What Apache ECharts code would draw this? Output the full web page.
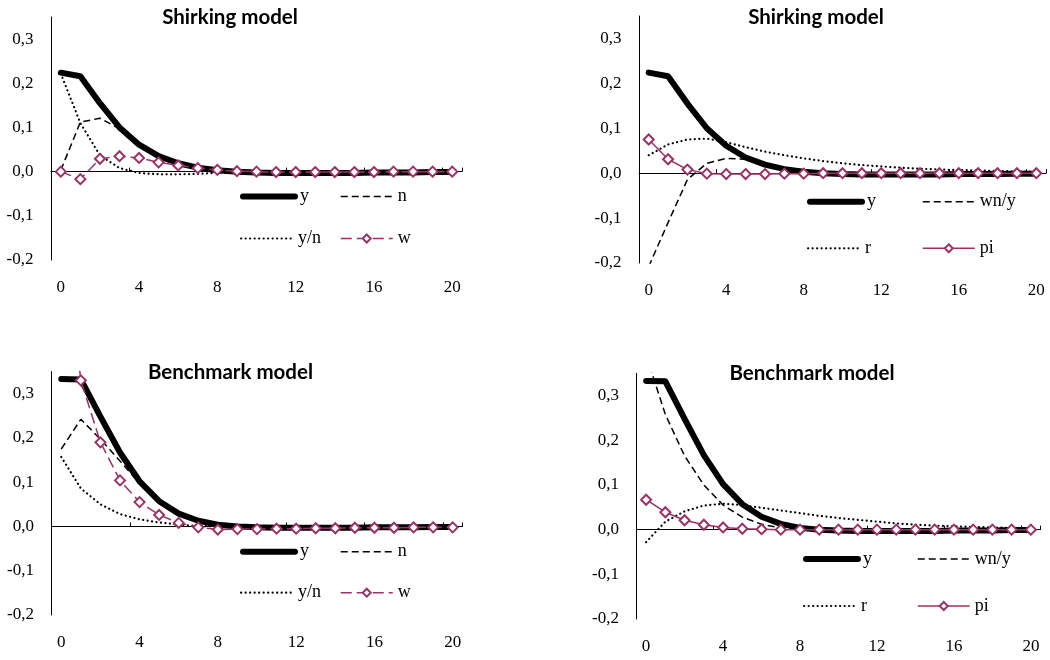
<!DOCTYPE html>
<html><head><meta charset="utf-8">
<script src="https://cdn.jsdelivr.net/npm/echarts@6/dist/echarts.min.js"></script>
<style>html,body{margin:0;padding:0;background:#fff}#chart{width:1050px;height:660px}</style>
</head><body><div id="chart"></div>
<script>
// ---- data ----
const periods = ['0','1','2','3','4','5','6','7','8','9','10','11','12','13','14','15','16','17','18','19','20'];
const xTickLabels = ['0','4','8','12','16','20'];
const yTickLabels = ['-0,2','-0,1','0,0','0,1','0,2','0,3'];

// Shirking model
const shirkY   = [0.224, 0.216, 0.155, 0.100, 0.061, 0.035, 0.019, 0.009, 0.003, 0.000, -0.002, -0.003, -0.003, -0.003, -0.003, -0.003, -0.002, -0.002, -0.002, -0.001, -0.001];
const shirkN   = [0.003, 0.112, 0.121, 0.097, 0.060, 0.035, 0.019, 0.009, 0.003, 0.000, -0.002, -0.002, -0.003, -0.003, -0.002, -0.002, -0.002, -0.002, -0.001, -0.001, -0.001];
const shirkYN  = [0.222, 0.110, 0.037, 0.008, -0.003, -0.006, -0.006, -0.005, -0.003, -0.002, -0.001, -0.001, -0.001, 0.000, 0.000, 0.000, 0.000, 0.000, 0.000, 0.000, 0.000];
const shirkW   = [0.000, -0.017, 0.029, 0.035, 0.031, 0.021, 0.014, 0.008, 0.004, 0.001, 0.000, -0.001, -0.001, -0.001, -0.001, -0.001, -0.001, 0.000, 0.000, 0.000, 0.000];
const shirkWNY = [-0.208, -0.110, -0.014, 0.022, 0.033, 0.031, 0.022, 0.012, 0.005, 0.001, -0.001, -0.002, -0.002, -0.002, -0.002, -0.002, -0.001, -0.001, -0.001, -0.001, -0.001];
const shirkR   = [0.040, 0.064, 0.075, 0.077, 0.069, 0.058, 0.048, 0.040, 0.033, 0.027, 0.022, 0.018, 0.015, 0.012, 0.010, 0.008, 0.007, 0.006, 0.005, 0.004, 0.003];
const shirkPi  = [0.075, 0.031, 0.008, -0.001, -0.002, -0.002, -0.002, -0.001, -0.001, 0.000, 0.000, 0.000, 0.000, 0.000, 0.000, 0.000, 0.000, 0.000, 0.000, 0.000, 0.000];

// Benchmark model
const benchY   = [0.333, 0.332, 0.248, 0.167, 0.102, 0.057, 0.029, 0.013, 0.004, 0.000, -0.002, -0.003, -0.003, -0.003, -0.003, -0.003, -0.002, -0.002, -0.002, -0.001, -0.001];
const benchN   = [0.175, 0.242, 0.197, 0.148, 0.097, 0.055, 0.028, 0.012, 0.004, 0.000, -0.002, -0.002, -0.003, -0.003, -0.002, -0.002, -0.002, -0.002, -0.001, -0.001, -0.001];
const benchYN  = [0.157, 0.086, 0.050, 0.028, 0.016, 0.009, 0.004, 0.001, 0.000, 0.000, 0.000, 0.000, 0.000, 0.000, 0.000, 0.000, 0.000, 0.000, 0.000, 0.000, 0.000];
const benchW   = [0.720, 0.330, 0.190, 0.104, 0.055, 0.026, 0.008, -0.002, -0.007, -0.006, -0.006, -0.005, -0.005, -0.004, -0.004, -0.003, -0.003, -0.003, -0.002, -0.002, -0.002];
const benchWNY = [0.390, 0.258, 0.165, 0.100, 0.055, 0.028, 0.012, 0.004, 0.000, -0.002, -0.003, -0.003, -0.003, -0.003, -0.002, -0.002, -0.002, -0.002, -0.001, -0.001, -0.001];
const benchR   = [-0.028, 0.018, 0.041, 0.054, 0.058, 0.055, 0.049, 0.043, 0.037, 0.031, 0.026, 0.022, 0.018, 0.014, 0.011, 0.009, 0.0075, 0.006, 0.005, 0.004, 0.003];
const benchPi  = [0.067, 0.039, 0.021, 0.011, 0.005, 0.002, 0.001, 0.000, 0.000, 0.000, 0.000, 0.000, 0.000, 0.000, 0.000, 0.000, 0.000, 0.000, 0.000, 0.000, 0.000];

// ---- styling ----
const purple = '#993366';
const serif = '"Liberation Serif", "Times New Roman", serif';
const styles = {
  thick: { lineStyle: { color: '#000', width: 6, cap: 'round', join: 'round' }, symbol: 'none', itemStyle: { color: '#000' } },
  dash:  { lineStyle: { color: '#000', width: 1.5, type: [7, 4] }, symbol: 'none', itemStyle: { color: '#000' } },
  dot:   { lineStyle: { color: '#000', width: 2.2, type: [0.1, 4.4], cap: 'round' }, symbol: 'none', itemStyle: { color: '#000' } },
  wdash: { lineStyle: { color: purple, width: 1.5, type: [11, 5] }, symbol: 'emptyDiamond', symbolSize: 10, itemStyle: { color: purple, borderWidth: 1.5 } },
  wsolid:{ lineStyle: { color: purple, width: 1.5 }, symbol: 'emptyDiamond', symbolSize: 10, itemStyle: { color: purple, borderWidth: 1.5 } }
};

const panels = [
  { title: 'Shirking model', tx: 230, ty: 17, grid: { left: 51, top: 17, width: 411, height: 243 },
    series: [['y', shirkY, 'thick'], ['n', shirkN, 'dash'], ['y/n', shirkYN, 'dot'], ['w', shirkW, 'wdash']],
    rows: [196.5, 238.5], cols: [240, 340] },
  { title: 'Shirking model', tx: 816, ty: 17, grid: { left: 639, top: 16, width: 407, height: 247 },
    series: [['y', shirkY, 'thick'], ['wn/y', shirkWNY, 'dash'], ['r', shirkR, 'dot'], ['pi', shirkPi, 'wsolid']],
    rows: [201.7, 248.3], cols: [807, 922] },
  { title: 'Benchmark model', tx: 230.5, ty: 372, grid: { left: 51.5, top: 371.5, width: 411, height: 243.5 },
    series: [['y', benchY, 'thick'], ['n', benchN, 'dash'], ['y/n', benchYN, 'dot'], ['w', benchW, 'wdash']],
    rows: [551.7, 592.7], cols: [240, 340] },
  { title: 'Benchmark model', tx: 812, ty: 373, grid: { left: 636.5, top: 373.3, width: 404, height: 245.7 },
    series: [['y', benchY, 'thick'], ['wn/y', benchWNY, 'dash'], ['r', benchR, 'dot'], ['pi', benchPi, 'wsolid']],
    rows: [559, 606], cols: [803, 917] }
];

const option = { animation: false, backgroundColor: '#fff', grid: [], xAxis: [], yAxis: [], series: [], legend: [], graphic: [] };

panels.forEach((p, gi) => {
  option.grid.push(Object.assign({ containLabel: false }, p.grid));
  // axis line at zero with tick marks
  option.xAxis.push({
    type: 'category', gridIndex: gi, data: periods, position: 'bottom', boundaryGap: true,
    axisLine: { show: true, onZero: true, lineStyle: { color: '#000', width: 1 } },
    axisTick: { show: true, inside: true, length: 4, interval: 3, lineStyle: { color: '#000', width: 1 } },
    axisLabel: { show: false }, splitLine: { show: false }
  });
  // labels at the bottom
  option.xAxis.push({
    type: 'category', gridIndex: gi, data: periods, position: 'bottom', boundaryGap: true,
    axisLine: { show: false, onZero: false }, axisTick: { show: false }, splitLine: { show: false },
    axisLabel: { show: true, margin: 19.5, color: '#000', fontFamily: serif, fontSize: 17,
      interval: (i, v) => xTickLabels.indexOf(v) >= 0 }
  });
  option.yAxis.push({
    type: 'value', gridIndex: gi, min: -0.2, max: 0.35, interval: 0.1,
    axisLine: { show: true, onZero: false, lineStyle: { color: '#000', width: 1 } },
    axisTick: { show: false }, splitLine: { show: false },
    axisLabel: { margin: 17.5, color: '#000', fontFamily: serif, fontSize: 17,
      formatter: v => {
        const k = Math.round(v * 10);
        if (Math.abs(v * 10 - k) > 1e-6) return '';
        const idx = k + 2;
        return yTickLabels[idx] !== undefined ? yTickLabels[idx] : '';
      } }
  });
  p.series.forEach(([name, data, st], si) => {
    const s = styles[st];
    option.series.push(Object.assign({
      type: 'line', name: name, xAxisIndex: gi * 2, yAxisIndex: gi, data: data,
      clip: true, smooth: false, z: 2 + si, emphasis: { disabled: true }
    }, JSON.parse(JSON.stringify(s))));
    const col = p.cols[si % 2], row = p.rows[Math.floor(si / 2)];
    const hasSymbol = s.symbol !== 'none';
    option.legend.push({
      data: [name], left: col, top: row - 9, padding: 0, itemWidth: 52, itemHeight: 10, itemGap: 0,
      selectedMode: false,
      textStyle: { color: '#000', fontFamily: serif, fontSize: 18 },
      lineStyle: { width: 'inherit' },
      itemStyle: hasSymbol ? {} : { opacity: 0 }
    });
  });
  option.graphic.push({
    type: 'text', x: p.tx, y: p.ty, z: 100,
    style: { text: p.title, fill: '#000', font: 'bold 20.5px Lato, "Open Sans", sans-serif', align: 'center', verticalAlign: 'middle' }
  });
});

const chart = echarts.init(document.getElementById('chart'), null, { renderer: 'canvas' });
chart.setOption(option);
</script>
</body></html>
